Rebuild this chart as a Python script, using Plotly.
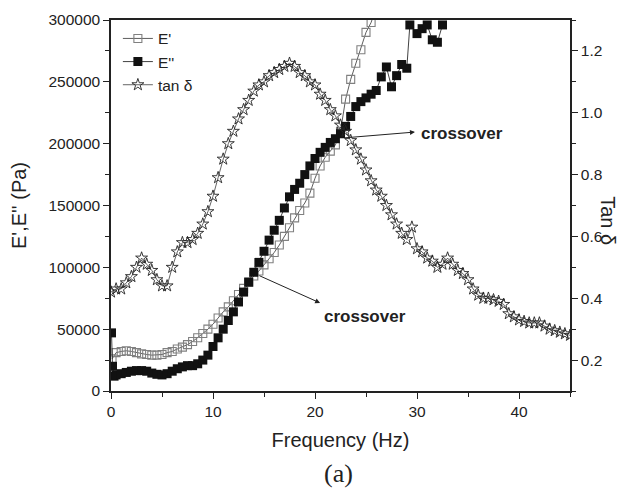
import plotly.graph_objects as go

# ---- data ----
freq_e1 = [0.1, 0.5, 1, 1.5, 2, 2.5, 3, 3.5, 4, 4.5, 5, 5.5, 6, 6.5, 7, 7.5, 8, 8.5, 9, 9.5,
           10, 10.5, 11, 11.5, 12, 12.5, 13, 13.5, 14, 14.5, 15, 15.5, 16, 16.5, 17, 17.5,
           18, 18.5, 19, 19.5, 20, 20.5, 21, 21.5, 22, 22.5, 23, 23.5, 24, 24.5, 25, 25.5, 26]
e_storage = [26000, 31000, 32000, 32500, 32000, 31000, 30000, 29500, 29000, 29000, 29500,
             31000, 32000, 34000, 35500, 37500, 40000, 43000, 46500, 50000, 54000, 59000,
             64000, 68000, 73000, 78000, 83000, 88000, 93000, 97000, 102000, 107000, 112000,
             118000, 125000, 132000, 140000, 146000, 152000, 160000, 172000, 182000, 189000,
             194000, 199000, 210000, 236000, 252000, 265000, 276000, 290000, 298000, 310000]

freq_e2 = [0.05, 0.15, 0.3, 0.5, 1, 1.5, 2, 2.5, 3, 3.5, 4, 4.5, 5, 5.5, 6, 6.5, 7, 7.5, 8,
           8.5, 9, 9.5, 10, 10.5, 11, 11.5, 12, 12.5, 13, 13.5, 14, 14.5, 15, 15.5, 16, 16.5,
           17, 17.5, 18, 18.5, 19, 19.5, 20, 20.5, 21, 21.5, 22, 22.5, 23, 23.5, 24, 24.5,
           25, 25.5, 26, 26.5, 27, 27.5, 28, 28.5, 29, 29.3, 30, 30.5, 31, 31.5, 32, 32.5]
e_loss = [47000, 20000, 12000, 13000, 14000, 15000, 16000, 16500, 16500, 16000, 14500, 13500,
          13000, 14000, 16000, 18000, 19500, 20500, 20500, 22000, 25000, 29000, 36000, 43000,
          50000, 57000, 64000, 72000, 80000, 88000, 96000, 104000, 113000, 122000, 130000,
          138000, 148000, 157000, 163000, 168000, 175000, 182000, 188000, 193000, 197000,
          201000, 204000, 208000, 214000, 222000, 230000, 234000, 237000, 240000, 243000,
          254000, 262000, 246000, 255000, 264000, 261000, 296000, 289000, 293000, 296000,
          284000, 282000, 296000]

freq_tan = [0, 0.5, 1, 1.5, 2, 2.5, 3, 3.5, 4, 4.5, 5, 5.5, 6, 6.5, 7, 7.5, 8, 8.5, 9, 9.5,
            10, 10.5, 11, 11.5, 12, 12.5, 13, 13.5, 14, 14.5, 15, 15.5, 16, 16.5, 17, 17.5,
            18, 18.5, 19, 19.5, 20, 20.5, 21, 21.5, 22, 22.5, 23, 23.5, 24, 24.5, 25, 25.5,
            26, 26.5, 27, 27.5, 28, 28.5, 29, 29.5, 30, 30.5, 31, 31.5, 32, 32.5, 33, 33.5,
            34, 34.5, 35, 35.5, 36, 36.5, 37, 37.5, 38, 38.5, 39, 39.5, 40, 40.5, 41, 41.5,
            42, 42.5, 43, 43.5, 44, 44.5, 45]
tan_delta = [0.42, 0.43, 0.43, 0.45, 0.47, 0.50, 0.53, 0.51, 0.49, 0.46, 0.44, 0.44, 0.50,
             0.55, 0.58, 0.58, 0.59, 0.61, 0.64, 0.68, 0.73, 0.79, 0.85, 0.90, 0.94, 0.98,
             1.01, 1.04, 1.07, 1.09, 1.10, 1.12, 1.13, 1.14, 1.15, 1.16, 1.15, 1.13, 1.12,
             1.10, 1.09, 1.06, 1.04, 1.01, 0.99, 0.96, 0.94, 0.91, 0.88, 0.85, 0.815, 0.78,
             0.75, 0.73, 0.70, 0.67, 0.64, 0.61, 0.59, 0.63, 0.56, 0.55, 0.53, 0.52, 0.50,
             0.51, 0.53, 0.51, 0.49, 0.48, 0.46, 0.43, 0.41, 0.40, 0.40, 0.395, 0.39, 0.38,
             0.35, 0.34, 0.33, 0.325, 0.32, 0.32, 0.32, 0.31, 0.30, 0.295, 0.29, 0.285, 0.28]

x_ticks = [0, 10, 20, 30, 40]
y_ticks = [0, 50000, 100000, 150000, 200000, 250000, 300000]
y2_ticks = [0.2, 0.4, 0.6, 0.8, 1.0, 1.2]

FONT = "Liberation Sans, Arial, sans-serif"

fig = go.Figure()
fig.add_trace(go.Scatter(
    x=freq_e1, y=e_storage, name="E'", mode="lines+markers",
    line=dict(color="#333333", width=0.8),
    marker=dict(symbol="square-open", size=8, color="#808080", line=dict(width=1.1)),
))
fig.add_trace(go.Scatter(
    x=freq_e2, y=e_loss, name="E''", mode="lines+markers",
    line=dict(color="#111111", width=0.8),
    marker=dict(symbol="square", size=9, color="#111111"),
))
fig.add_trace(go.Scatter(
    x=freq_tan, y=tan_delta, name="tan δ", mode="lines+markers", yaxis="y2",
    line=dict(color="#222222", width=0.7),
    marker=dict(symbol="star-open", size=9, color="#222222", line=dict(width=0.9)),
))

axis_common = dict(
    showline=True, linecolor="#222", linewidth=1.5, ticks="outside", ticklen=6,
    tickwidth=1.3, tickcolor="#222", showgrid=False, zeroline=False, automargin=False,
    tickfont=dict(family=FONT, size=15.5, color="#222"),
)

# the page body adds an 8px offset, so the figure is sized to the remaining viewport
fig.update_layout(
    width=627, height=481,
    margin=dict(l=103, r=65, t=12, b=98, autoexpand=False),
    paper_bgcolor="white", plot_bgcolor="white",
    font=dict(family=FONT, color="#222"),
    xaxis=dict(
        range=[0, 45], tickvals=x_ticks, mirror=True,
        minor=dict(ticks="outside", ticklen=4, dtick=5, tick0=0, tickcolor="#222", tickwidth=1.2),
        title=dict(text="Frequency (Hz)", font=dict(family=FONT, size=20, color="#222"), standoff=14),
        **axis_common,
    ),
    yaxis=dict(
        range=[0, 300000], tickvals=y_ticks, tickformat="d",
        minor=dict(ticks="outside", ticklen=4, dtick=25000, tick0=0, tickcolor="#222", tickwidth=1.2),
        title=dict(text="E',E'' (Pa)", font=dict(family=FONT, size=20, color="#222"), standoff=18),
        **axis_common,
    ),
    yaxis2=dict(
        range=[0.1, 1.3], tickvals=y2_ticks, tickformat=".1f", overlaying="y", side="right",
        minor=dict(ticks="outside", ticklen=4, dtick=0.1, tick0=0.1, tickcolor="#222", tickwidth=1.2),
        **axis_common,
    ),
    legend=dict(
        x=0.015, y=0.995, xanchor="left", yanchor="top", bgcolor="rgba(0,0,0,0)",
        font=dict(family=FONT, size=15.5, color="#222"), tracegroupgap=0,
    ),
    showlegend=True,
)

# crossover arrows (head near the label, tail at the crossover point)
fig.add_annotation(x=29.8, y=209400, ax=22.75, ay=204600, xref="x", yref="y",
                   axref="x", ayref="y", text="", showarrow=True, arrowhead=2,
                   arrowsize=1, arrowwidth=1, arrowcolor="#222", standoff=0, startstandoff=0)
fig.add_annotation(x=30.2, y=208600, xref="x", yref="y", text="<b>crossover</b>",
                   showarrow=False, xanchor="left", yanchor="middle",
                   font=dict(family=FONT, size=17, color="#222"))
fig.add_annotation(x=20.5, y=71200, ax=14.4, ay=93800, xref="x", yref="y",
                   axref="x", ayref="y", text="", showarrow=True, arrowhead=2,
                   arrowsize=1, arrowwidth=1, arrowcolor="#222", standoff=0, startstandoff=0)
fig.add_annotation(x=20.7, y=60600, xref="x", yref="y", text="<b>crossover</b>",
                   showarrow=False, xanchor="left", yanchor="middle",
                   font=dict(family=FONT, size=17, color="#222"))

# right axis title, reading top to bottom
fig.add_annotation(x=1.083, y=0.46, xref="paper", yref="paper", text="Tan δ",
                   textangle=90, showarrow=False, xanchor="center", yanchor="middle",
                   font=dict(family=FONT, size=20, color="#222"))
# panel label
fig.add_annotation(x=0.495, y=-0.222, xref="paper", yref="paper", text="(a)",
                   showarrow=False, xanchor="center", yanchor="middle",
                   font=dict(family="Liberation Serif, Times New Roman, serif", size=26, color="#222"))

fig.write_html("out.html")
